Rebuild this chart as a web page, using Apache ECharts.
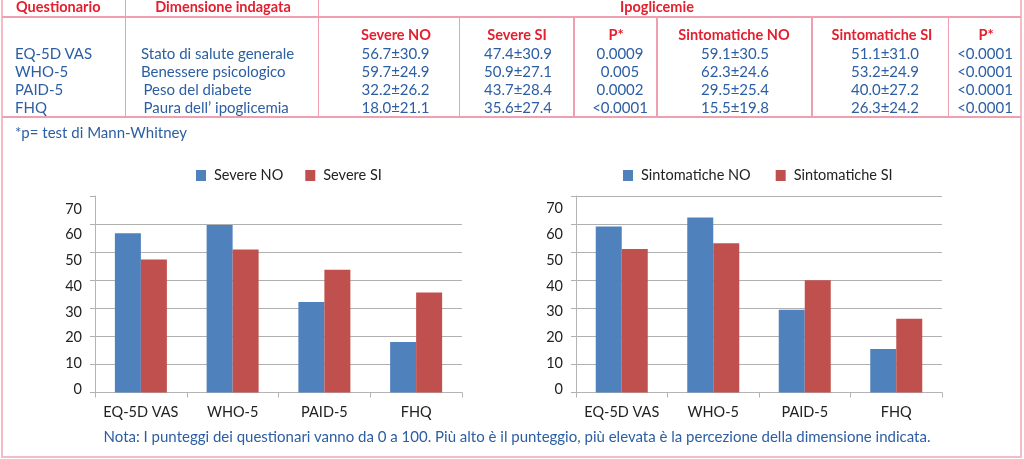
<!DOCTYPE html>
<html>
<head>
<meta charset="utf-8">
<script src="https://cdn.jsdelivr.net/npm/echarts@6/dist/echarts.min.js"></script>
<style>
  html, body { margin:0; padding:0; background:#fff; }
  #wrap { position:relative; width:1024px; height:459px; overflow:hidden; font-family: Lato, "Noto Sans", sans-serif; }
  #chart { position:absolute; left:0; top:0; width:1024px; height:459px; }
  #overlay { position:absolute; left:0; top:0; width:1024px; height:459px; pointer-events:none; }
  .t { position:absolute; white-space:nowrap; line-height:16px; height:16px; }
  .c { text-align:center; width:200px; }
  .hdr { color:#e2202f; font-weight:bold; font-size:14.5px; }
  .blue { color:#2c5ea3; font-size:15px; }
  .ln { position:absolute; background:#ee9fb1; }
  .bd { position:absolute; background:#f4bcc7; }
</style>
</head>
<body>
<div id="wrap">
  <div id="chart"></div>
  <div id="overlay"></div>
</div>
<script>
// ---- data ----
const categories = ['EQ-5D VAS', 'WHO-5', 'PAID-5', 'FHQ'];
const dimensioni = ['Stato di salute generale', 'Benessere psicologico', 'Peso del diabete', 'Paura dell\u2019 ipoglicemia'];
const severeNO = [56.7, 59.7, 32.2, 18.0];
const severeNOsd = [30.9, 24.9, 26.2, 21.1];
const severeSI = [47.4, 50.9, 43.7, 35.6];
const severeSIsd = [30.9, 27.1, 28.4, 27.4];
const pSevere = ['0.0009', '0.005', '0.0002', '<0.0001'];
const sintNO = [59.1, 62.3, 29.5, 15.5];
const sintNOsd = [30.5, 24.6, 25.4, 19.8];
const sintSI = [51.1, 53.2, 40.0, 26.3];
const sintSIsd = [31.0, 24.9, 27.2, 24.2];
const pSint = ['<0.0001', '<0.0001', '<0.0001', '<0.0001'];
const colHeaders = ['Severe NO', 'Severe SI', 'P*', 'Sintomatiche NO', 'Sintomatiche SI', 'P*'];
const seriesNamesLeft = ['Severe NO', 'Severe SI'];
const seriesNamesRight = ['Sintomatiche NO', 'Sintomatiche SI'];
const footnoteP = '*p= test di Mann-Whitney';
const nota = 'Nota: I punteggi dei questionari vanno da 0 a 100. Più alto è il punteggio, più elevata è la percezione della dimensione indicata.';

// ---- table overlay (layout) ----
const ov = document.getElementById('overlay');
function txt(s, cls, x, y, center) {
  const d = document.createElement('div');
  d.className = 't ' + cls + (center ? ' c' : '');
  d.textContent = s;
  d.style.left = (center ? x - 100 : x) + 'px';
  d.style.top = (y - 8) + 'px';
  ov.appendChild(d);
}
function line(cls, x, y, w, h) {
  const d = document.createElement('div');
  d.className = cls;
  d.style.left = x + 'px'; d.style.top = y + 'px';
  d.style.width = w + 'px'; d.style.height = h + 'px';
  ov.appendChild(d);
}
// outer border
line('bd', 1, 0, 2, 458);
line('bd', 1020, 0, 2, 458);
line('bd', 1, 456, 1021, 2);
// inner table lines
line('ln', 2, 16, 1019, 1.5);
line('ln', 2, 116, 1019, 1.5);
line('ln', 124.5, 0, 1.5, 117);
line('ln', 317.5, 0, 1.5, 117);
[458.5, 573, 656, 811, 947.5].forEach(x => line('ln', x, 17, 1.5, 100));

txt('Questionario', 'hdr', 16, 7, false);
txt('Dimensione indagata', 'hdr', 223, 7, true);
txt('Ipoglicemie', 'hdr', 657, 7, true);
const hdrX = [396, 517, 616, 734, 882, 986];
colHeaders.forEach((h, i) => txt(h, 'hdr', hdrX[i], 35, true));
const rowY = [53, 71, 89, 107];
const dimX = [141, 141, 143.5, 143.5];
const dataX = [395.5, 518, 620, 735, 885, 985];
const fmt = (m, s) => m.toFixed(1) + '\u00b1' + s.toFixed(1);
categories.forEach((q, i) => {
  txt(q, 'blue', 15, rowY[i], false);
  txt(dimensioni[i], 'blue', dimX[i], rowY[i], false);
  const vals = [fmt(severeNO[i], severeNOsd[i]), fmt(severeSI[i], severeSIsd[i]), pSevere[i],
                fmt(sintNO[i], sintNOsd[i]), fmt(sintSI[i], sintSIsd[i]), pSint[i]];
  vals.forEach((v, j) => txt(v, 'blue', dataX[j], rowY[i], true));
});
txt(footnoteP, 'blue', 15, 131.5, false);
(function(){
  const d = document.createElement('div');
  d.className = 't blue';
  d.style.left = '0px'; d.style.width = '1034px'; d.style.textAlign = 'center';
  d.style.top = (435.5 - 8) + 'px';
  d.textContent = nota;
  ov.appendChild(d);
})();

// ---- charts ----
const chart = echarts.init(document.getElementById('chart'), null, { renderer: 'canvas' });
const BLUE = '#4f81bd', RED = '#c0504d';
const axisGray = '#b4b4b4', gridGray = '#b0b0b0';
const font = 'Lato, "Noto Sans", sans-serif';
const FS = 14.5;

function mainY(gridIndex, showMax) {
  return {
    type: 'value', gridIndex, min: 0, max: 70, interval: 10,
    axisLabel: { show: false },
    axisLine: { show: true, lineStyle: { color: axisGray, width: 1 } },
    axisTick: { show: true, length: 5, lineStyle: { color: gridGray } },
    splitLine: { show: true, showMaxLine: showMax, lineStyle: { color: gridGray, width: 1 } }
  };
}
function labelY(gridIndex) {
  return {
    type: 'value', gridIndex, min: 0, max: 70, interval: 10,
    axisLine: { show: false }, axisTick: { show: false }, splitLine: { show: false },
    axisLabel: { show: true, fontSize: FS, color: '#222', fontFamily: font, margin: 13 }
  };
}
function mainX(gridIndex) {
  return {
    type: 'category', gridIndex, data: categories,
    axisLine: { show: true, lineStyle: { color: axisGray } },
    axisTick: { show: true, length: 5, alignWithLabel: false, lineStyle: { color: axisGray } },
    axisLabel: { interval: 0, fontSize: FS, color: '#222', fontFamily: font, margin: 12 }
  };
}
function hiddenX(gridIndex) {
  return { type: 'category', gridIndex, data: categories, show: false };
}

chart.setOption({
  animation: false,
  textStyle: { fontFamily: font },
  legend: [
    { data: seriesNamesLeft, left: 191, top: 163, itemWidth: 10, itemHeight: 11, itemGap: 22,
      icon: 'rect', textStyle: { fontSize: FS, color: '#222', fontFamily: font, padding: [0, 0, 0, 3] } },
    { data: seriesNamesRight, left: 618, top: 163, itemWidth: 10, itemHeight: 11, itemGap: 25,
      icon: 'rect', textStyle: { fontSize: FS, color: '#222', fontFamily: font, padding: [0, 0, 0, 3] } }
  ],
  grid: [
    { left: 95, width: 367, top: 196, height: 196.5 },
    { left: 95, width: 367, top: 209, height: 180 },
    { left: 576, width: 366, top: 196, height: 196.5 },
    { left: 576, width: 366, top: 208.5, height: 180.5 }
  ],
  xAxis: [mainX(0), hiddenX(1), mainX(2), hiddenX(3)],
  yAxis: [mainY(0, false), labelY(1), mainY(2, true), labelY(3)],
  series: [
    { name: seriesNamesLeft[0], type: 'bar', xAxisIndex: 0, yAxisIndex: 0, data: severeNO, barWidth: 26, barGap: '0%', itemStyle: { color: BLUE } },
    { name: seriesNamesLeft[1], type: 'bar', xAxisIndex: 0, yAxisIndex: 0, data: severeSI, barWidth: 26, barGap: '0%', itemStyle: { color: RED } },
    { name: seriesNamesRight[0], type: 'bar', xAxisIndex: 2, yAxisIndex: 2, data: sintNO, barWidth: 26, barGap: '0%', itemStyle: { color: BLUE } },
    { name: seriesNamesRight[1], type: 'bar', xAxisIndex: 2, yAxisIndex: 2, data: sintSI, barWidth: 26, barGap: '0%', itemStyle: { color: RED } }
  ]
});
</script>
</body>
</html>
